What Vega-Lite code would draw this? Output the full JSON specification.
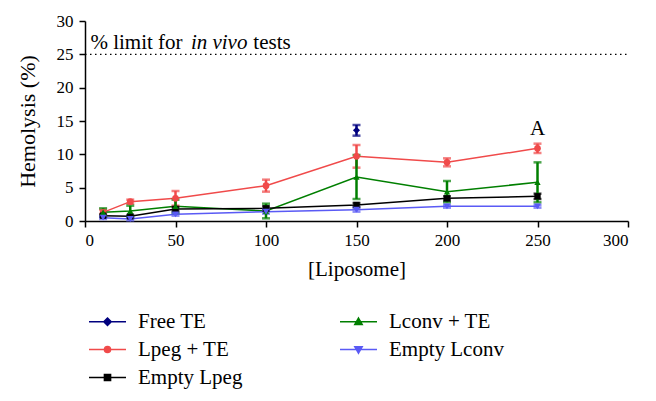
{
  "$schema": "https://vega.github.io/schema/vega-lite/v6.json",
  "width": 543,
  "height": 200,
  "autosize": {"type": "none"},
  "padding": {"left": 85, "top": 21, "right": 28, "bottom": 180},
  "background": "white",
  "config": {
    "view": {"stroke": null},
    "font": "Liberation Serif",
    "text": {"fontWeight": "normal", "color": "black"},
    "axis": {
      "grid": false,
      "domainColor": "black",
      "domainWidth": 1.5,
      "tickColor": "black",
      "tickWidth": 1.5,
      "tickSize": 6,
      "labelColor": "black",
      "labelFont": "Liberation Serif",
      "labelFontSize": 17,
      "titleFont": "Liberation Serif",
      "titleFontSize": 21,
      "titleFontWeight": "normal",
      "titleColor": "black"
    },
    "axisY": {"tickCount": 7},
    "legend": {
      "labelFont": "Liberation Serif",
      "labelFontSize": 21,
      "labelColor": "black"
    }
  },
  "datasets": {
    "hemo": [
      {"series": "Free TE", "conc": 150, "hemolysis": 13.6, "sd": 0.8},
      {"series": "Lpeg + TE", "conc": 10, "hemolysis": 1.3, "sd": 0.4},
      {"series": "Lpeg + TE", "conc": 25, "hemolysis": 2.9, "sd": 0.3},
      {"series": "Lpeg + TE", "conc": 50, "hemolysis": 3.4, "sd": 1.1},
      {"series": "Lpeg + TE", "conc": 100, "hemolysis": 5.3, "sd": 0.9},
      {"series": "Lpeg + TE", "conc": 150, "hemolysis": 9.7, "sd": 1.7},
      {"series": "Lpeg + TE", "conc": 200, "hemolysis": 8.8, "sd": 0.6},
      {"series": "Lpeg + TE", "conc": 250, "hemolysis": 10.9, "sd": 0.7},
      {"series": "Lconv + TE", "conc": 10, "hemolysis": 1.3, "sd": 0.6},
      {"series": "Lconv + TE", "conc": 25, "hemolysis": 1.5, "sd": 0.8},
      {"series": "Lconv + TE", "conc": 50, "hemolysis": 2.2, "sd": 1.0},
      {"series": "Lconv + TE", "conc": 100, "hemolysis": 1.5, "sd": 1.1},
      {"series": "Lconv + TE", "conc": 150, "hemolysis": 6.6, "sd": 3.3},
      {"series": "Lconv + TE", "conc": 200, "hemolysis": 4.4, "sd": 1.6},
      {"series": "Lconv + TE", "conc": 250, "hemolysis": 5.8, "sd": 3.0},
      {"series": "Empty Lpeg", "conc": 10, "hemolysis": 0.8, "sd": 0.2},
      {"series": "Empty Lpeg", "conc": 25, "hemolysis": 0.7, "sd": 0.2},
      {"series": "Empty Lpeg", "conc": 50, "hemolysis": 1.8, "sd": 0.3},
      {"series": "Empty Lpeg", "conc": 100, "hemolysis": 1.9, "sd": 0.3},
      {"series": "Empty Lpeg", "conc": 150, "hemolysis": 2.4, "sd": 0.3},
      {"series": "Empty Lpeg", "conc": 200, "hemolysis": 3.4, "sd": 0.3},
      {"series": "Empty Lpeg", "conc": 250, "hemolysis": 3.7, "sd": 0.4},
      {"series": "Empty Lconv", "conc": 10, "hemolysis": 0.5, "sd": 0.2},
      {"series": "Empty Lconv", "conc": 25, "hemolysis": 0.3, "sd": 0.2},
      {"series": "Empty Lconv", "conc": 50, "hemolysis": 1.0, "sd": 0.2},
      {"series": "Empty Lconv", "conc": 100, "hemolysis": 1.4, "sd": 0.3},
      {"series": "Empty Lconv", "conc": 150, "hemolysis": 1.7, "sd": 0.3},
      {"series": "Empty Lconv", "conc": 200, "hemolysis": 2.2, "sd": 0.2},
      {"series": "Empty Lconv", "conc": 250, "hemolysis": 2.2, "sd": 0.2}
    ],
    "one": [{"note": "limit"}]
  },
  "layer": [
    {
      "data": {"name": "one"},
      "mark": {"type": "rule", "strokeDash": [1.5, 3.5], "color": "black", "strokeWidth": 1.2},
      "encoding": {
        "x": {"datum": 0, "type": "quantitative"},
        "x2": {"datum": 300},
        "y": {"datum": 25, "type": "quantitative"}
      }
    },
    {
      "data": {"name": "one"},
      "mark": {"type": "text", "align": "left", "baseline": "alphabetic", "dy": -5, "fontSize": 21, "fontWeight": "normal", "font": "Liberation Serif", "text": "% limit for"},
      "encoding": {"x": {"datum": 3}, "y": {"datum": 25}}
    },
    {
      "data": {"name": "one"},
      "mark": {"type": "text", "align": "left", "baseline": "alphabetic", "dy": -5, "fontSize": 21, "fontWeight": "normal", "font": "Liberation Serif", "fontStyle": "italic", "text": "in vivo"},
      "encoding": {"x": {"datum": 58.5}, "y": {"datum": 25}}
    },
    {
      "data": {"name": "one"},
      "mark": {"type": "text", "align": "left", "baseline": "alphabetic", "dy": -5, "fontSize": 21, "fontWeight": "normal", "font": "Liberation Serif", "text": "tests"},
      "encoding": {"x": {"datum": 93}, "y": {"datum": 25}}
    },
    {
      "data": {"name": "one"},
      "mark": {"type": "text", "align": "center", "baseline": "middle", "fontSize": 21, "fontWeight": "normal", "font": "Liberation Serif", "text": "A"},
      "encoding": {"x": {"datum": 250}, "y": {"datum": 13.8}}
    },
    {
      "data": {"name": "hemo"},
      "encoding": {
        "x": {"field": "conc", "type": "quantitative", "scale": {"domain": [0, 300], "nice": false}, "axis": {"values": [0, 50, 100, 150, 200, 250, 300], "title": "[Liposome]", "titlePadding": 10, "labelPadding": 5}},
        "y": {"field": "hemolysis", "type": "quantitative", "scale": {"domain": [0, 30], "nice": false}, "axis": {"values": [0, 5, 10, 15, 20, 25, 30], "tickCount": 7, "title": "Hemolysis (%)", "titleFontSize": 22, "titlePadding": 17, "labelPadding": 6}},
        "color": {
          "field": "series", "type": "nominal",
          "scale": {
            "domain": ["Free TE", "Lpeg + TE", "Empty Lpeg", "Lconv + TE", "Empty Lconv"],
            "range": ["#00007f", "#f04a4a", "#000000", "#007f00", "#5a5af5"]
          },
          "legend": {
            "title": null,
            "orient": "none",
            "legendX": -8,
            "legendY": 290,
            "columns": 2,
            "columnPadding": 85,
            "rowPadding": 6,
            "symbolSize": 152,
            "symbolStrokeWidth": 1.5,
            "symbolOpacity": 1,
            "labelOffset": 20,
            "symbolOffset": 20,
            "labelLimit": 300,
            "encode": {
              "symbols": {
                "update": {
                  "shape": {"signal": "datum.value == 'Free TE' ? 'M-3,0H3M0,-0.6L0.6,0L0,0.6L-0.6,0Z' : datum.value == 'Lpeg + TE' ? 'M-3,0H3M0.5,0A0.5,0.5,0,1,1,-0.5,0A0.5,0.5,0,1,1,0.5,0Z' : datum.value == 'Empty Lpeg' ? 'M-3,0H3M-0.5,-0.5H0.5V0.5H-0.5Z' : datum.value == 'Lconv + TE' ? 'M-3,0H3M0,-0.6L0.6,0.45L-0.6,0.45Z' : 'M-3,0H3M0,0.6L0.6,-0.45L-0.6,-0.45Z'"},
                  "stroke": {"signal": "datum.value == 'Free TE' ? '#00007f' : datum.value == 'Lpeg + TE' ? '#f04a4a' : datum.value == 'Empty Lpeg' ? '#000000' : datum.value == 'Lconv + TE' ? '#007f00' : '#5a5af5'"},
                  "fill": {"signal": "datum.value == 'Free TE' ? '#00007f' : datum.value == 'Lpeg + TE' ? '#f04a4a' : datum.value == 'Empty Lpeg' ? '#000000' : datum.value == 'Lconv + TE' ? '#007f00' : '#5a5af5'"},
                  "strokeWidth": {"value": 1.5},
                  "opacity": {"value": 1},
                  "size": {"value": 152}
                }
              }
            }
          }
        }
      },
      "layer": [
        {
          "transform": [{"filter": "datum.series != 'Free TE'"}],
          "mark": {"type": "line", "strokeWidth": 1.5}
        },
        {
          "mark": {"type": "errorbar", "ticks": {"size": 8, "thickness": 2.5}, "thickness": 2.5},
          "encoding": {
            "y": {"field": "hemolysis", "type": "quantitative", "axis": {"values": [0, 5, 10, 15, 20, 25, 30], "tickCount": 7, "title": "Hemolysis (%)", "titleFontSize": 22, "titlePadding": 17, "labelPadding": 6}},
            "yError": {"field": "sd"}
          }
        },
        {
          "transform": [{"filter": "datum.series == 'Free TE'"}],
          "mark": {"type": "point", "filled": true, "size": 50, "opacity": 1, "shape": "diamond"}
        },
        {
          "transform": [{"filter": "datum.series == 'Lpeg + TE'"}],
          "mark": {"type": "point", "filled": true, "size": 45, "opacity": 1, "shape": "circle"}
        },
        {
          "transform": [{"filter": "datum.series == 'Empty Lpeg'"}],
          "mark": {"type": "point", "filled": true, "size": 40, "opacity": 1, "shape": "square"}
        },
        {
          "transform": [{"filter": "datum.series == 'Lconv + TE'"}],
          "mark": {"type": "point", "filled": true, "size": 40, "opacity": 1, "shape": "triangle-up"}
        },
        {
          "transform": [{"filter": "datum.series == 'Empty Lconv'"}],
          "mark": {"type": "point", "filled": true, "size": 45, "opacity": 1, "shape": "triangle-down"}
        }
      ]
    }
  ]
}
